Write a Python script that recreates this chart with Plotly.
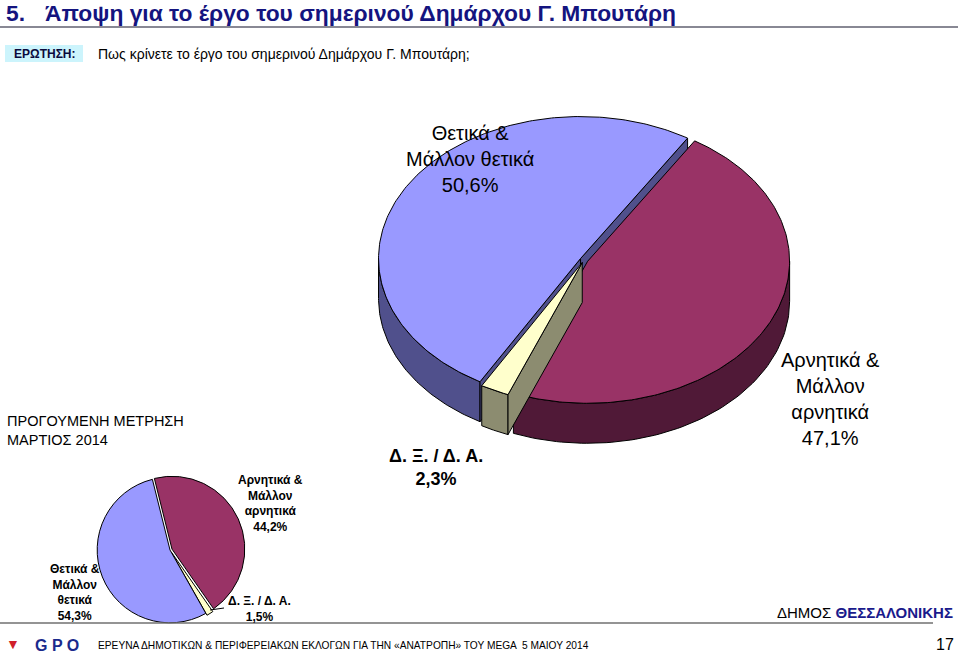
import numpy as np
import plotly.graph_objects as go

# ---------------- data ----------------
categories = ["Θετικά & Μάλλον θετικά", "Αρνητικά & Μάλλον αρνητικά", "Δ. Ξ. / Δ. Α."]
current_may_2014 = [50.6, 47.1, 2.3]
previous_march_2014 = [54.3, 44.2, 1.5]
big_label_lines = ["Θετικά &<br>Μάλλον θετικά", "Αρνητικά &<br>Μάλλον<br>αρνητικά", "Δ. Ξ. / Δ. Α."]
small_label_lines = ["Θετικά &<br>Μάλλον<br>θετικά", "Αρνητικά &<br>Μάλλον<br>αρνητικά", "Δ. Ξ. / Δ. Α."]

# ---------------- style ----------------
FONT = "Liberation Sans, Arial, sans-serif"
NAVY = "#14147F"
top_colors = ["#9999FF", "#993366", "#FFFFCC"]
side_colors = ["#50508C", "#501937", "#8C8C70"]

# geometry of the 3D pie (page pixel space)
CX, CY, RX, RY, DEPTH, EXPLODE = 584, 260, 202, 142, 40, 0.02
START_DEG = 58.0
clockwise_order = [1, 2, 0]


def fmt(v):
    return f"{v:.1f}".replace(".", ",") + "%"


fig = go.Figure()

# compute slice angles (math convention, counter-clockwise positive)
total = sum(current_may_2014)
slices = {}
hi = START_DEG
for i in clockwise_order:
    span = 360.0 * current_may_2014[i] / total
    lo = hi - span
    slices[i] = (lo, hi)
    hi = lo


def P(a, dx, dy, drop=0.0):
    r = np.radians(a)
    return CX + dx + RX * np.cos(r), CY + dy - RY * np.sin(r) + drop


def add_poly(xs, ys, fill):
    fig.add_trace(go.Scatter(x=list(xs), y=list(ys), mode="lines", fill="toself",
                             fillcolor=fill, line=dict(color="#000000", width=1),
                             hoverinfo="skip", showlegend=False))


def front_intervals(lo, hi):
    out = []
    for k in range(-2, 3):
        s, e = -180 + 360 * k, 360 * k
        a, b = max(lo, s), min(hi, e)
        if b > a:
            out.append((a, b))
    return out


draw_order = sorted(slices.keys(), key=lambda i: -np.sin(np.radians(sum(slices[i]) / 2)))
for i in draw_order:
    lo, hi = slices[i]
    mid = np.radians((lo + hi) / 2)
    dx = EXPLODE * RX * np.cos(mid)
    dy = -EXPLODE * RY * np.sin(mid)
    # outer wall (front part only)
    for a, b in front_intervals(lo, hi):
        ang = np.linspace(a, b, 80)
        tx, ty = P(ang, dx, dy)
        bx, by = P(ang[::-1], dx, dy, DEPTH)
        add_poly(np.r_[tx, bx, tx[:1]], np.r_[ty, by, ty[:1]], side_colors[i])
    # radial walls that face the viewer
    walls = []
    if np.cos(np.radians(hi)) < 0:
        walls.append(hi)
    if np.cos(np.radians(lo)) > 0:
        walls.append(lo)
    for phi in walls:
        x1, y1 = P(phi, dx, dy)
        x2, y2 = P(phi, dx, dy, DEPTH)
        cx0, cy0 = CX + dx, CY + dy
        add_poly([cx0, x1, x2, cx0, cx0], [cy0, y1, y2, cy0 + DEPTH, cy0], side_colors[i])
    # top face
    ang = np.linspace(lo, hi, 200)
    tx, ty = P(ang, dx, dy)
    add_poly(np.r_[CX + dx, tx, CX + dx], np.r_[CY + dy, ty, CY + dy], top_colors[i])

# ---------------- small flat pie (previous measurement) ----------------
fig.add_trace(go.Pie(
    labels=[categories[i] for i in clockwise_order],
    values=[previous_march_2014[i] for i in clockwise_order],
    marker=dict(colors=[top_colors[i] for i in clockwise_order],
                line=dict(color="#000000", width=1)),
    pull=[0.03, 0.03, 0.0],
    sort=False, direction="clockwise", rotation=-14,
    textinfo="none", hoverinfo="skip", showlegend=False,
    domain=dict(x=[95 / 960, 245 / 960], y=[1 - 625 / 653, 1 - 475 / 653]),
))

ann = []


def text(x, y, t, size, color="#000000", bold=False, xanchor="center", yanchor="middle", align="center"):
    if bold:
        t = "<b>" + t.replace("<br>", "</b><br><b>") + "</b>"
    ann.append(dict(x=x, y=y, xref="x", yref="y", text=t, showarrow=False,
                    font=dict(family=FONT, size=size, color=color),
                    xanchor=xanchor, yanchor=yanchor, align=align))


# title and question
text(4, 13, "5.", 22.8, NAVY, bold=True, xanchor="left")
text(43, 13, "Άποψη για το έργο του σημερινού Δημάρχου Γ. Μπουτάρη", 22.8, NAVY, bold=True, xanchor="left")
text(12, 54, "ΕΡΩΤΗΣΗ:", 12, "#0A0A3C", bold=True, xanchor="left")
text(96, 54, "Πως κρίνετε το έργο του σημερινού Δημάρχου Γ. Μπουτάρη;", 14, xanchor="left")

# big pie labels
text(470, 159, big_label_lines[0] + "<br>" + fmt(current_may_2014[0]), 20)
text(830, 399, big_label_lines[1] + "<br>" + fmt(current_may_2014[1]), 20)
text(436, 467, big_label_lines[2] + "<br>" + fmt(current_may_2014[2]), 18, bold=True)

# small pie labels
text(5, 430, "ΠΡΟΓΟΥΜΕΝΗ ΜΕΤΡΗΣΗ<br>ΜΑΡΤΙΟΣ 2014", 14.5, xanchor="left", align="left")
text(270, 503, small_label_lines[1] + "<br>" + fmt(previous_march_2014[1]), 12, bold=True)
text(75, 592, small_label_lines[0] + "<br>" + fmt(previous_march_2014[0]), 12, bold=True)
text(259, 609, small_label_lines[2] + "<br>" + fmt(previous_march_2014[2]), 12, bold=True)

# footer
text(955, 612, "ΔΗΜΟΣ <b><span style='color:#1A1A8C'>ΘΕΣΣΑΛΟΝΙΚΗΣ</span></b>", 15, xanchor="right")
text(956, 644, "17", 16, xanchor="right")
text(96, 645, "ΕΡΕΥΝΑ ΔΗΜΟΤΙΚΩΝ &amp; ΠΕΡΙΦΕΡΕΙΑΚΩΝ ΕΚΛΟΓΩΝ ΓΙΑ ΤΗΝ «ΑΝΑΤΡΟΠΗ» ΤΟΥ MEGA  5 ΜΑΙΟΥ 2014",
     10.2, xanchor="left")
text(13, 644, "▼", 14, "#D0202A")
text(57, 645, "<b>G P O</b>", 16, "#1A2A8C")

shapes = [
    dict(type="line", xref="x", yref="y", x0=0, x1=958, y0=27, y1=27,
         line=dict(color="#606070", width=1.5)),
    dict(type="rect", xref="x", yref="y", x0=5, x1=83, y0=45, y1=62,
         fillcolor="#CCF4FC", line=dict(width=0), layer="below"),
    dict(type="line", xref="x", yref="y", x0=0, x1=933, y0=623, y1=623,
         line=dict(color="#707070", width=1.5)),
    dict(type="line", xref="x", yref="y", x0=210, x1=224, y0=610, y1=608,
         line=dict(color="#000000", width=1)),
]

fig.update_layout(
    width=960, height=653, margin=dict(l=0, r=0, t=0, b=0),
    paper_bgcolor="white", plot_bgcolor="white",
    xaxis=dict(range=[0, 960], visible=False, fixedrange=True, domain=[0, 1]),
    yaxis=dict(range=[653, 0], visible=False, fixedrange=True, domain=[0, 1]),
    annotations=ann, shapes=shapes, showlegend=False,
    font=dict(family=FONT),
)

fig.write_html("out.html", config={"displayModeBar": False},
               post_script="document.body.style.margin='0px';document.body.style.overflow='hidden';")
